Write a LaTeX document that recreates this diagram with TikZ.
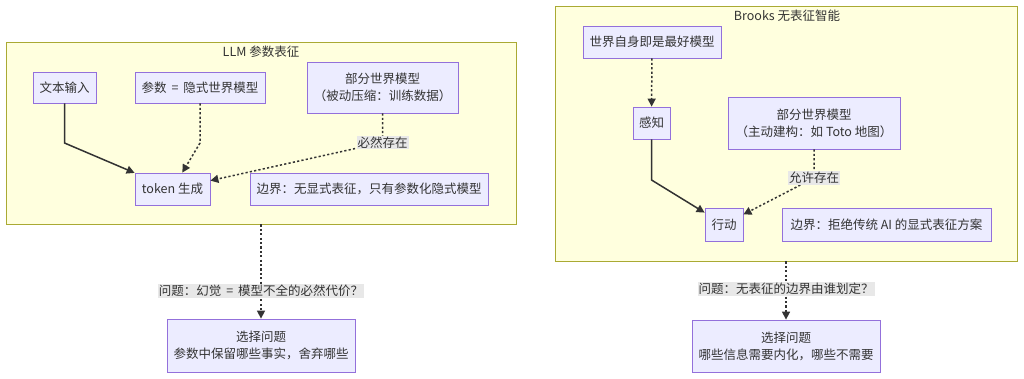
\documentclass[tikz,border=0pt]{standalone}
\usepackage{fontspec}
\setmainfont{Noto Sans CJK SC}
\usetikzlibrary{arrows.meta}
\definecolor{clfill}{HTML}{FFFFDE}
\definecolor{cldraw}{HTML}{AAAA33}
\definecolor{ndfill}{HTML}{ECECFF}
\definecolor{nddraw}{HTML}{9370DB}
\definecolor{txt}{HTML}{333333}
\definecolor{lblbg}{HTML}{E8E8E8}
\newcommand{\eqsp}{\hspace{0.4em}=\hspace{0.4em}}
\begin{document}
\begin{tikzpicture}[x=1pt,y=-1pt,
  every node/.style={font=\fontsize{12.5}{17}\selectfont, text=txt},
  cluster/.style={draw=cldraw, fill=clfill, line width=0.8pt, inner sep=0pt},
  ctitle/.style={inner sep=0pt},
  box/.style={draw=nddraw, fill=ndfill, line width=0.8pt, inner sep=0pt, align=center},
  lbl/.style={fill=lblbg, inner sep=1pt},
  solidarrow/.style={draw=txt, line width=1.5pt, -{Triangle[length=8pt,width=8pt]}},
  dotarrow/.style={draw=txt, line width=1.5pt, dash pattern=on 2.2pt off 2.2pt, -{Triangle[length=8pt,width=8pt]}}
]
\fill[white] (0,0) rectangle (1024,379);
\useasboundingbox (0,0) rectangle (1024,379);

% clusters
\node[cluster, minimum width=510pt, minimum height=182pt] (c1) at (261,133) {};
\node[ctitle] (t1) at (261,52) {LLM 参数表征};
\node[cluster, minimum width=462pt, minimum height=255pt] (c2) at (786,133.5) {};
\node[ctitle] (t2) at (787,16) {Brooks 无表征智能};

% left nodes
\node[box, minimum width=63pt, minimum height=31pt] (inp) at (64.5,87.5) {文本输入};
\node[box, minimum width=130pt, minimum height=31pt] (par) at (200,87.5) {参数\eqsp 隐式世界模型};
\node[box, minimum width=151pt, minimum height=51pt] (pwm1) at (382.5,87.5) {部分世界模型\\（被动压缩：训练数据）};
\node[box, minimum width=75pt, minimum height=32pt] (tok) at (172.5,189) {token 生成};
\node[box, minimum width=238pt, minimum height=32pt] (bd1) at (369,189) {边界：无显式表征，只有参数化隐式模型};
\node[box, minimum width=188pt, minimum height=53pt] (ch1) at (261,345.5) {选择问题\\参数中保留哪些事实，舍弃哪些};

% right nodes
\node[box, minimum width=138pt, minimum height=32pt] (wld) at (652,42) {世界自身即是最好模型};
\node[box, minimum width=37pt, minimum height=32pt] (per) at (651.5,123) {感知};
\node[box, minimum width=172pt, minimum height=52pt] (pwm2) at (814,123) {部分世界模型\\（主动建构：如 Toto 地图）};
\node[box, minimum width=38pt, minimum height=33pt] (act) at (724,224.5) {行动};
\node[box, minimum width=209pt, minimum height=33pt] (bd2) at (886.5,224.5) {边界：拒绝传统 AI 的显式表征方案};
\node[box, minimum width=188pt, minimum height=52pt] (ch2) at (786,346) {选择问题\\哪些信息需要内化，哪些不需要};

% left edges
\draw[solidarrow] (inp) -- ++(0,55.5) -- (tok);
\draw[dotarrow] (par) -- ++(0,55.5) -- (tok);
\draw[dotarrow] (pwm1) -- ++(0,55) node[lbl] (l1) {必然存在} -- (tok);
\draw[dotarrow] (c1.south) -- node[lbl, pos=0.705] (q1) {问题：幻觉\eqsp 模型不全的必然代价？} (ch1);

% right edges
\draw[dotarrow] (wld) -- (per);
\draw[solidarrow] (per) -- ++(0,57) -- (act);
\draw[dotarrow] (pwm2) -- ++(0,55) node[lbl] (l2) {允许存在} -- (act);
\draw[dotarrow] (c2.south) -- node[lbl, pos=0.475] (q2) {问题：无表征的边界由谁划定？} (ch2);
\end{tikzpicture}
\end{document}
